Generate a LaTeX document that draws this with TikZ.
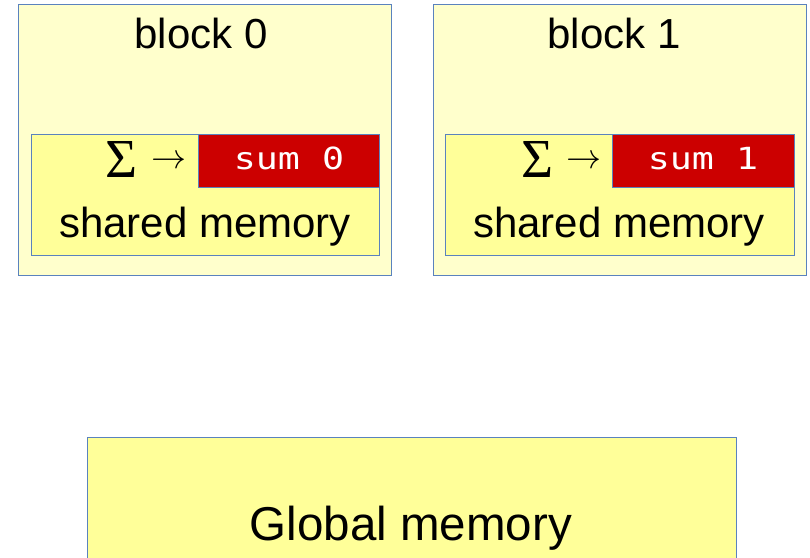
\documentclass[tikz,border=0pt]{standalone}
\usepackage{fontspec}
\setmainfont{Liberation Sans}
\newfontfamily\codefont[FakeStretch=1.2]{DejaVu Sans Mono}
\newfontfamily\symfont{Liberation Serif}
\definecolor{edgeblue}{HTML}{5A82BE}
\definecolor{paleyellow}{HTML}{FFFFCC}
\definecolor{memyellow}{HTML}{FFFF99}
\definecolor{sumred}{HTML}{CC0000}
\begin{document}
\begin{tikzpicture}[x=1pt,y=-1pt,
  box/.style={draw=edgeblue, line width=0.8pt, inner sep=0pt, outer sep=0pt},
  blockbox/.style={box, fill=paleyellow},
  membox/.style={box, fill=memyellow},
  sumbox/.style={box, fill=sumred},
  lbl/.style={font=\fontsize{42}{42}\selectfont, anchor=base, inner sep=0pt},
  biglbl/.style={font=\fontsize{47.5}{47.5}\selectfont, anchor=base, inner sep=0pt},
  codelbl/.style={font=\codefont\fontsize{30.5}{30.5}\selectfont, text=white, anchor=base, inner sep=0pt},
  sigmalbl/.style={font=\symfont\fontsize{55}{55}\selectfont, anchor=base, inner sep=0pt},
  arrowlbl/.style={anchor=center, inner sep=0pt}]
\useasboundingbox (0,0) rectangle (810,557);

% block 0
\node[blockbox, minimum width=373pt, minimum height=271pt] (block0) at (204.5,139.5) {};
\node[membox, minimum width=348pt, minimum height=121pt] (shm0) at (205,194.5) {};
\node[sumbox, minimum width=181pt, minimum height=53pt] (sumbox0) at (288.5,160.5) {};
\node[lbl] (title0) at (201,48) {block 0};
\node[lbl] (shmtext0) at (205,237) {shared memory};
\node[codelbl] (sumtext0) at (289,169) {sum 0};
\node[sigmalbl] (sigma0) at (122,177.5) {Σ};
\node[arrowlbl] (arrow0) at (169,162) {\scalebox{3.5}{$\rightarrow$}};

% block 1
\node[blockbox, minimum width=373pt, minimum height=271pt] (block1) at (619.5,139.5) {};
\node[membox, minimum width=349pt, minimum height=121pt] (shm1) at (619.5,194.5) {};
\node[sumbox, minimum width=182pt, minimum height=53pt] (sumbox1) at (703,160.5) {};
\node[lbl] (title1) at (614,48) {block 1};
\node[lbl] (shmtext1) at (619,237) {shared memory};
\node[codelbl] (sumtext1) at (703,169) {sum 1};
\node[sigmalbl] (sigma1) at (537,177.5) {Σ};
\node[arrowlbl] (arrow1) at (584,162) {\scalebox{3.5}{$\rightarrow$}};

% global memory
\node[membox, minimum width=649pt, minimum height=124pt] (global) at (411.5,499) {};
\node[biglbl] (globaltext) at (411,540) {Global memory};
\end{tikzpicture}
\end{document}
